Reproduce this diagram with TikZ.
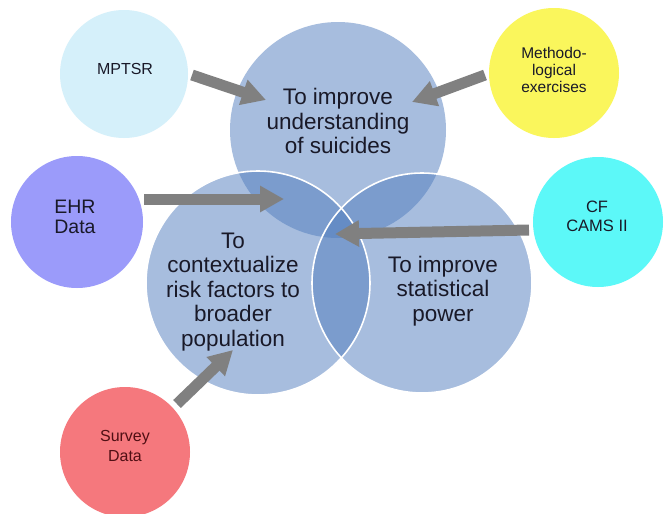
\documentclass[tikz,border=0pt]{standalone}
\usepackage{fontspec}
\setmainfont{Liberation Sans}
\usetikzlibrary{arrows.meta}
\definecolor{bigblue}{RGB}{80,125,190}
\definecolor{arrgrey}{RGB}{128,128,128}
\definecolor{cmptsr}{RGB}{213,240,250}
\definecolor{cmeth}{RGB}{250,246,92}
\definecolor{cehr}{RGB}{155,155,250}
\definecolor{ccf}{RGB}{92,248,248}
\definecolor{csurvey}{RGB}{245,120,125}
\definecolor{darktext}{RGB}{25,25,40}
\definecolor{survtext}{RGB}{80,15,20}
\begin{document}
\begin{tikzpicture}[x=1pt,y=-1pt,
  bigc/.style={circle, fill=bigblue, fill opacity=0.5, inner sep=0pt, minimum size=#1},
  ring/.style={draw=white, line width=1.6pt},
  smallc/.style={circle, inner sep=0pt, minimum size=130pt},
  bigtext/.style={align=center, text=darktext, font=\fontsize{22.5}{24.5}\selectfont, inner sep=0pt},
  smalltext/.style={align=center, text=darktext, font=\fontsize{15.5}{17}\selectfont, inner sep=0pt},
  arr/.style={draw=arrgrey, line width=11pt, -{Triangle[length=24pt,width=25pt]}}
]
\useasboundingbox[fill=white] (0,0) rectangle (665,514);

% small circles
\node[smallc, fill=cmptsr, minimum size=128pt] (mptsr) at (124,74) {};
\node[smallc, fill=cmeth] (meth) at (554,73) {};
\node[smallc, fill=cehr, minimum size=132pt] (ehr) at (77,222) {};
\node[smallc, fill=ccf] (cf) at (598,222) {};
\node[smallc, fill=csurvey] (survey) at (125,452) {};

% big circles
\node[bigc=216pt] (top) at (338,130) {};
\node[bigc=224pt] (bl) at (258,283) {};
\node[bigc=220pt] (br) at (422,283) {};
\draw[ring] (bl.center) circle[radius=112pt];
\draw[ring] (br.center) circle[radius=110pt];

% arrows
\coordinate (a1s) at (192,75);  \coordinate (a1e) at (266,100);
\coordinate (a2s) at (485,75);  \coordinate (a2e) at (412,102);
\coordinate (a3s) at (144,199); \coordinate (a3e) at (284,199);
\coordinate (a4s) at (529,230); \coordinate (a4e) at (335,234);
\coordinate (a5s) at (177,404); \coordinate (a5e) at (233,350);
\draw[arr] (a1s) -- (a1e);
\draw[arr] (a2s) -- (a2e);
\draw[arr] (a3s) -- (a3e);
\draw[arr] (a4s) -- (a4e);
\draw[arr] (a5s) -- (a5e);

% texts
\node[bigtext] (ttop) at (338,121) {To improve\\understanding\\of suicides};
\node[bigtext] (tbl) at (233,292) {To\\contextualize\\risk factors to\\broader\\population};
\node[bigtext] (tbr) at (443,291) {To improve\\statistical\\power};

\node[smalltext, font=\fontsize{16}{18}\selectfont] (lmptsr) at (125,69) {MPTSR};
\node[smalltext] (lmeth) at (554,70) {Methodo-\\logical\\exercises};
\node[smalltext, font=\fontsize{19.5}{20}\selectfont] (lehr) at (75,217) {EHR\\Data};
\node[smalltext, font=\fontsize{16.5}{19}\selectfont] (lcf) at (597,216) {CF\\CAMS II};
\node[smalltext, text=survtext, font=\fontsize{16}{20}\selectfont] (lsurvey) at (125,446) {Survey\\Data};
\end{tikzpicture}
\end{document}
